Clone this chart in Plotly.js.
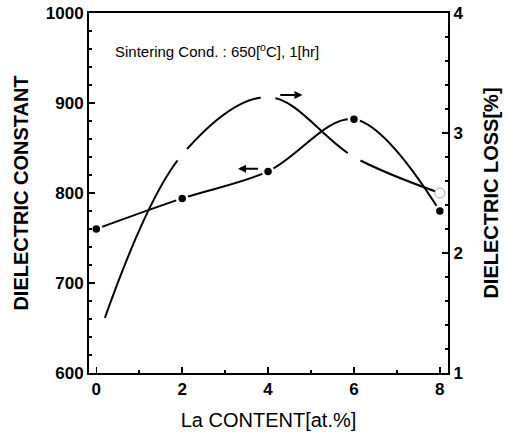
<!DOCTYPE html>
<html>
<head>
<meta charset="utf-8">
<script src="https://cdn.plot.ly/plotly-3.0.1.min.js"></script>
<style>html,body{margin:0;padding:0;background:#fff}#chart{width:507px;height:436px}</style>
</head>
<body>
<div id="chart"></div>
<script>
// La content [at.%]
var laContent = [0, 2, 4, 6, 8];
var dielectricConstant = [760, 794, 824, 882, 780];
// dielectric loss curve (starts slightly right of 0 in the original)
var lossContent = [0.2, 2, 4, 6, 8];
var dielectricLoss = [1.46, 2.82, 3.30, 2.80, 2.50];
var xTicks = [0, 2, 4, 6, 8];
var yTicks = [600, 700, 800, 900, 1000];
var y2Ticks = [1, 2, 3, 4];

var FONT = 'Liberation Sans, Arial, Helvetica, sans-serif';

var traceLossLine = {
  x: lossContent, y: dielectricLoss, type: 'scatter', mode: 'lines',
  line: {color: '#000', width: 2, shape: 'spline', smoothing: 1},
  yaxis: 'y2', showlegend: false, hoverinfo: 'skip'
};
var traceLossMarks = {
  x: lossContent.slice(1), y: dielectricLoss.slice(1), type: 'scatter', mode: 'markers',
  marker: {color: '#ffffff', opacity: 1, size: [13, 13, 13, 10],
           line: {color: ['#ffffff', '#ffffff', '#ffffff', '#aaaaaa'], width: [2, 2, 2, 1]}},
  yaxis: 'y2', showlegend: false, hoverinfo: 'skip'
};
var traceConst = {
  x: laContent, y: dielectricConstant, type: 'scatter', mode: 'lines+markers',
  line: {color: '#000', width: 2, shape: 'spline', smoothing: 1},
  marker: {color: '#000', size: 10, line: {color: '#fff', width: 2.5}},
  yaxis: 'y', showlegend: false, hoverinfo: 'skip'
};

var tickFont = {family: FONT, size: 17, color: '#000', weight: 'bold'};

var layout = {
  width: 507, height: 436,
  margin: {l: 89, r: 59, t: 13, b: 63},
  paper_bgcolor: '#fff', plot_bgcolor: '#fff',
  showlegend: false,
  xaxis: {
    range: [-0.17, 8.19], tickvals: xTicks, ticktext: xTicks.map(String),
    ticks: 'inside', ticklen: 6, tickwidth: 1.5, tickcolor: '#000',
    minor: {dtick: 1, tick0: 0, ticks: 'inside', ticklen: 3, tickwidth: 1.5, tickcolor: '#000'},
    showline: true, linecolor: '#000', linewidth: 2, mirror: true,
    showgrid: false, zeroline: false, tickfont: tickFont,
    title: {text: 'La CONTENT[at.%]', font: {family: FONT, size: 20, color: '#000'}, standoff: 15}
  },
  yaxis: {
    range: [600, 1000], tickvals: yTicks, ticktext: yTicks.map(String),
    ticks: 'inside', ticklen: 6, tickwidth: 1.5, tickcolor: '#000',
    minor: {dtick: 20, tick0: 600, ticks: 'inside', ticklen: 3, tickwidth: 1.5, tickcolor: '#000'},
    showline: true, linecolor: '#000', linewidth: 2,
    showgrid: false, zeroline: false, tickfont: tickFont,
    title: {text: 'DIELECTRIC CONSTANT', font: {family: FONT, size: 20, color: '#000', weight: 'bold'}, standoff: 12}
  },
  yaxis2: {
    overlaying: 'y', side: 'right',
    range: [1, 4], tickvals: y2Ticks, ticktext: y2Ticks.map(String),
    ticks: 'inside', ticklen: 6, tickwidth: 1.5, tickcolor: '#000',
    minor: {dtick: 0.2, tick0: 1, ticks: 'inside', ticklen: 3, tickwidth: 1.5, tickcolor: '#000'},
    showline: true, linecolor: '#000', linewidth: 2,
    showgrid: false, zeroline: false, tickfont: tickFont,
    title: {text: 'DIELECTRIC LOSS[%]', font: {family: FONT, size: 20, color: '#000', weight: 'bold'}, standoff: 22}
  },
  annotations: [
    {xref: 'x', yref: 'y', x: 0.4, y: 958, xanchor: 'left', yanchor: 'middle',
     text: 'Sintering Cond. : 650[<sup>o</sup>C], 1[hr]', showarrow: false,
     font: {family: FONT, size: 15, color: '#000'}},
    {xref: 'x', yref: 'y', axref: 'x', ayref: 'y', x: 3.3, y: 827, ax: 3.8, ay: 827,
     text: '', showarrow: true, arrowhead: 2, arrowsize: 0.8, arrowwidth: 2, arrowcolor: '#000'},
    {xref: 'x', yref: 'y', axref: 'x', ayref: 'y', x: 4.8, y: 909, ax: 4.25, ay: 909,
     text: '', showarrow: true, arrowhead: 2, arrowsize: 0.8, arrowwidth: 2, arrowcolor: '#000'}
  ]
};

Plotly.newPlot('chart', [traceLossLine, traceConst, traceLossMarks], layout, {displayModeBar: false, staticPlot: true});
</script>
</body>
</html>
